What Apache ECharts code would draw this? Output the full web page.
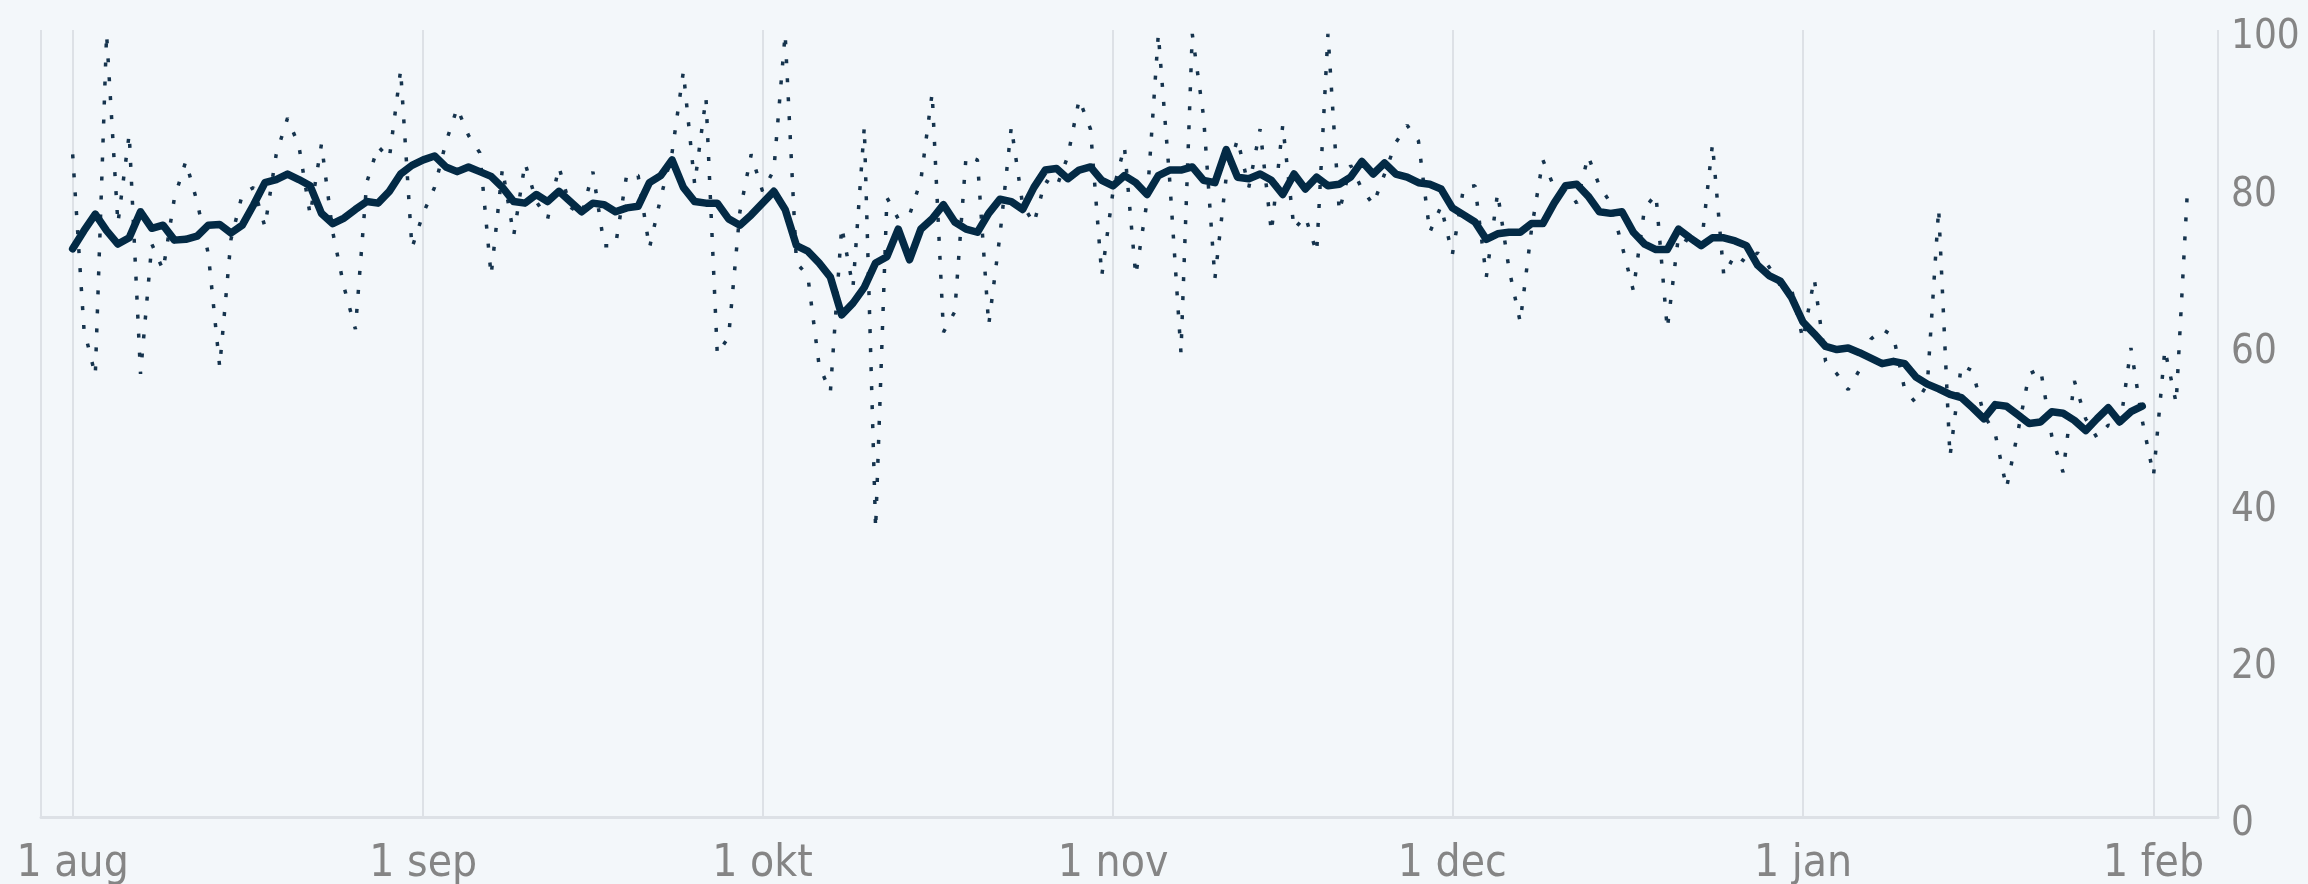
<!DOCTYPE html>
<html>
<head>
<meta charset="utf-8">
<script src="https://cdn.jsdelivr.net/npm/echarts@6/dist/echarts.min.js"></script>
<style>
html,body{margin:0;padding:0;background:#f3f7fa;}
#chart{width:2308px;height:884px;}
</style>
</head>
<body>
<div id="chart"></div>
<script>
// first day of the series: 1 aug
const firstDay = [2020, 7, 1];
const monthNames = ['jan','feb','mar','apr','maj','jun','jul','aug','sep','okt','nov','dec'];
const yTicks = [0, 20, 40, 60, 80, 100];

// daily values (dotted line), one per day from 1 aug
const dailyValues = [
  84.2, 62.0, 56.1, 99.5, 75.4, 86.8, 56.3, 72.8, 69.5, 78.7,
  83.3, 78.2, 71.5, 57.2, 73.4, 79.1, 80.0, 75.0, 84.2, 88.8,
  85.3, 76.5, 85.5, 74.3, 67.3, 62.0, 80.6, 85.2, 83.7, 94.9,
  72.3, 76.7, 80.0, 85.7, 90.1, 86.6, 84.4, 68.8, 82.4, 73.9,
  83.1, 78.2, 76.0, 82.6, 77.5, 76.5, 82.0, 72.6, 72.6, 81.7,
  81.5, 72.3, 78.7, 84.4, 94.7, 80.4, 91.4, 58.8, 61.0, 76.9,
  84.2, 79.5, 82.2, 99.5, 70.4, 68.8, 57.4, 54.0, 75.0, 67.3,
  87.7, 36.6, 78.7, 76.0, 76.5, 80.9, 92.0, 61.6, 64.2, 84.0,
  83.5, 62.5, 74.0, 87.7, 77.8, 75.4, 80.9, 80.0, 84.0, 91.2,
  87.4, 68.8, 79.6, 85.2, 68.8, 78.2, 99.5, 81.0, 59.0, 99.5,
  89.0, 68.4, 81.3, 86.1, 80.0, 87.4, 74.3, 87.9, 74.7, 76.3,
  71.7, 99.5, 76.9, 82.8, 79.8, 77.8, 81.7, 85.7, 87.9, 85.9,
  74.3, 77.6, 71.5, 80.0, 80.2, 68.6, 79.3, 69.7, 62.9, 74.7,
  83.5, 80.0, 80.0, 78.0, 84.0, 80.2, 78.0, 72.6, 66.9, 77.4,
  79.1, 62.0, 73.9, 73.0, 72.5, 85.5, 68.8, 71.5, 70.4, 71.7,
  69.9, 67.5, 67.0, 60.7, 68.4, 57.9, 56.3, 54.3, 56.8, 60.7,
  62.0, 61.1, 54.3, 52.6, 55.0, 77.3, 45.8, 57.4, 56.7, 51.1,
  48.7, 41.8, 48.9, 56.3, 57.0, 48.4, 43.8, 55.4, 50.6, 48.2,
  49.8, 49.3, 59.6, 50.4, 43.4, 59.4, 52.6, 79.7
];

// moving average (solid line), one per day from 1 aug
const averageValues = [
  72.2, 74.5, 76.6, 74.5, 72.8, 73.6, 76.9, 74.8, 75.2, 73.3,
  73.4, 73.8, 75.2, 75.3, 74.2, 75.2, 77.8, 80.6, 81.0, 81.7,
  81.0, 80.2, 76.7, 75.4, 76.1, 77.2, 78.2, 78.0, 79.5, 81.7,
  82.8, 83.5, 84.0, 82.6, 82.0, 82.6, 82.0, 81.4, 80.0, 78.2,
  78.0, 79.1, 78.2, 79.5, 78.2, 76.9, 78.0, 77.8, 76.9, 77.4,
  77.6, 80.6, 81.5, 83.5, 80.0, 78.2, 78.0, 78.0, 76.0, 75.2,
  76.5, 78.0, 79.5, 77.2, 72.6, 71.9, 70.4, 68.6, 63.8, 65.3,
  67.3, 70.4, 71.2, 74.7, 70.8, 74.7, 76.0, 77.8, 75.6, 74.7,
  74.3, 76.7, 78.5, 78.2, 77.2, 80.0, 82.2, 82.4, 81.1, 82.2,
  82.6, 80.9, 80.2, 81.5, 80.6, 79.1, 81.5, 82.2, 82.2, 82.6,
  80.9, 80.6, 84.8, 81.3, 81.1, 81.7, 80.9, 79.1, 81.7, 79.8,
  81.3, 80.2, 80.4, 81.3, 83.3, 81.7, 83.1, 81.7, 81.3, 80.6,
  80.4, 79.8, 77.4, 76.5, 75.6, 73.4, 74.1, 74.3, 74.3, 75.4,
  75.4, 78.0, 80.2, 80.4, 78.9, 76.9, 76.7, 76.9, 74.3, 72.8,
  72.1, 72.1, 74.7, 73.6, 72.6, 73.6, 73.6, 73.2, 72.6, 70.1,
  68.8, 68.1, 66.0, 62.9, 61.4, 59.8, 59.4, 59.6, 59.0, 58.3,
  57.6, 57.9, 57.6, 55.9, 55.0, 54.4, 53.7, 53.3, 52.0, 50.6,
  52.4, 52.2, 51.1, 50.0, 50.2, 51.5, 51.3, 50.4, 49.1, 50.6,
  52.0, 50.2, 51.5, 52.2
];

const DAY = 86400000;
const t0 = Date.UTC(firstDay[0], firstDay[1], firstDay[2]);
const toPairs = arr => arr.map((v, i) => [t0 + i * DAY, v]);

const chart = echarts.init(document.getElementById('chart'), null, {renderer: 'canvas'});
const labelFont = "'DejaVu Sans Condensed', 'Liberation Sans Narrow', 'DejaVu Sans', sans-serif";

chart.setOption({
  backgroundColor: '#f3f7fa',
  animation: false,
  useUTC: true,
  grid: {left: 41, right: 90, top: 30, bottom: 67, outerBoundsMode: 'none'},
  xAxis: {
    type: 'time',
    min: t0 - 2.8 * DAY,
    max: t0 + 189.7 * DAY,
    splitNumber: 6,
    axisLine: {show: true, lineStyle: {color: '#dde1e6', width: 3}},
    axisTick: {show: false},
    splitLine: {show: true, lineStyle: {color: '#dde1e6', width: 2}},
    minorSplitLine: {show: false},
    axisLabel: {
      color: '#858585',
      fontFamily: labelFont,
      fontSize: 44,
      margin: 26,
      showMinLabel: false,
      showMaxLabel: false,
      formatter: function (val) {
        const d = new Date(val);
        return d.getUTCDate() + ' ' + monthNames[d.getUTCMonth()];
      }
    }
  },
  yAxis: {
    type: 'value',
    position: 'right',
    min: yTicks[0],
    max: yTicks[yTicks.length - 1],
    interval: yTicks[1] - yTicks[0],
    axisLine: {show: false},
    axisTick: {show: false},
    splitLine: {show: false},
    axisLabel: {
      color: '#858585',
      fontFamily: labelFont,
      fontSize: 40,
      margin: 13,
      align: 'left',
      verticalAlign: 'top',
      lineHeight: 16
    }
  },
  series: [
    {
      name: 'daily',
      type: 'line',
      data: toPairs(dailyValues),
      showSymbol: false,
      silent: true,
      z: 2,
      lineStyle: {color: '#15334d', width: 3.5, type: [4, 15], cap: 'butt'}
    },
    {
      name: 'average',
      type: 'line',
      data: toPairs(averageValues),
      showSymbol: false,
      silent: true,
      z: 3,
      lineStyle: {color: '#032a45', width: 7.5, join: 'round', cap: 'round'}
    }
  ]
});
</script>
</body>
</html>
